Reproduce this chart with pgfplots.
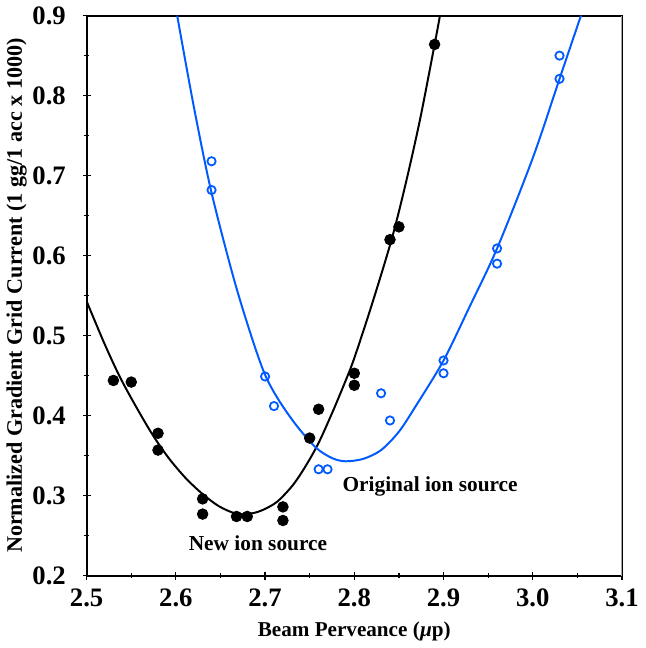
\documentclass[border=0pt]{standalone}
\usepackage{fontspec}
\setmainfont{Liberation Serif}
\usepackage{pgfplots}
\pgfplotsset{compat=1.18}
\definecolor{origblue}{RGB}{0,90,255}

\begin{document}
\begin{tikzpicture}
\begin{axis}[
    width=271pt, height=283.5pt,
    scale only axis,
    xmin=2.5, xmax=3.1,
    ymin=0.2, ymax=0.9,
    xtick={2.5,2.6,...,3.1},
    ytick={0.2,0.3,...,0.9},
    minor x tick num=1,
    minor y tick num=1,
    xtick pos=bottom, ytick pos=left,
    tick align=center,
    major tick length=4pt,
    minor tick length=2.5pt,
    every tick/.style={black, line width=0.6pt},
    axis line style={line width=0.9pt},
    /pgf/number format/assume math mode=true,
    /pgf/number format/fixed,
    /pgf/number format/fixed zerofill,
    /pgf/number format/precision=1,
    ticklabel style={font=\fontsize{13.5}{14}\selectfont\bfseries},
    yticklabel style={xshift=-5pt},
    xticklabel style={yshift=-1pt},
    xlabel={Beam Perveance (\textit{\textmu}p)},
    ylabel={Normalized Gradient Grid Current (1 gg/1 acc x 1000)},
    xlabel style={font=\fontsize{10.7}{12}\selectfont\bfseries, yshift=-1pt},
    ylabel style={font=\fontsize{11.2}{12}\selectfont\bfseries, yshift=-4pt},
    clip=true,
]
% New ion source: fitted curve
\addplot[black, line width=1pt, smooth, tension=0.5] coordinates {
    (2.500,0.543) (2.520,0.490) (2.537,0.449) (2.555,0.412)
    (2.574,0.376) (2.592,0.347) (2.611,0.322) (2.630,0.302)
    (2.648,0.287) (2.666,0.278) (2.680,0.277) (2.695,0.281)
    (2.713,0.292) (2.731,0.313) (2.746,0.338) (2.760,0.366)
    (2.775,0.403) (2.790,0.443) (2.800,0.472) (2.820,0.540)
    (2.842,0.621) (2.858,0.692) (2.874,0.772) (2.890,0.864)
    (2.896,0.900)
};
% Original ion source: fitted curve
\addplot[origblue, line width=1pt, smooth, tension=0.5] coordinates {
    (2.6015,0.900) (2.620,0.787) (2.6395,0.681) (2.665,0.571)
    (2.685,0.498) (2.700,0.451) (2.715,0.420) (2.735,0.388)
    (2.757,0.360) (2.775,0.347) (2.790,0.343) (2.810,0.346)
    (2.830,0.357) (2.850,0.380) (2.870,0.414) (2.900,0.469)
    (2.930,0.538) (2.960,0.609) (3.000,0.722) (3.030,0.821)
    (3.054,0.900)
};
% New ion source: measurements
\addplot[only marks, mark=*, mark size=2.7pt, black] coordinates {
    (2.53,0.444) (2.55,0.442) (2.58,0.378) (2.58,0.357)
    (2.63,0.296) (2.63,0.277) (2.668,0.274) (2.68,0.274)
    (2.72,0.286) (2.72,0.269) (2.75,0.372) (2.76,0.408)
    (2.80,0.453) (2.80,0.438) (2.84,0.620) (2.85,0.636)
    (2.89,0.864)
};
% Original ion source: measurements
\addplot[only marks, mark=o, mark size=2.1pt, origblue, line width=0.9pt] coordinates {
    (2.64,0.718) (2.64,0.682) (2.70,0.449) (2.71,0.412)
    (2.76,0.333) (2.77,0.333) (2.83,0.428) (2.84,0.394)
    (2.90,0.469) (2.90,0.453) (2.96,0.609) (2.96,0.590)
    (3.03,0.850) (3.03,0.821)
};
\node[font=\fontsize{10.8}{12}\selectfont\bfseries] at (axis cs:2.692,0.241) {New ion source};
\node[font=\fontsize{10.8}{12}\selectfont\bfseries] at (axis cs:2.885,0.312) {Original ion source};
\draw[gray!70, line width=0.9pt] (rel axis cs:1,0) -- (rel axis cs:1,1);
\end{axis}
\end{tikzpicture}
\end{document}
